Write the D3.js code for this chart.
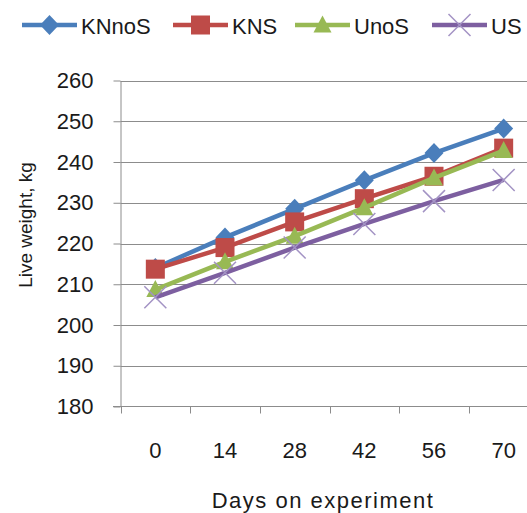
<!DOCTYPE html>
<html>
<head>
<meta charset="utf-8">
<script src="https://cdn.jsdelivr.net/npm/d3@7/dist/d3.min.js"></script>
<style>
  body { margin: 0; background: #fff; }
  svg { display: block; }
  text { font-family: "Liberation Sans", Arial, sans-serif; fill: #1a1a1a; }
</style>
</head>
<body>
<div id="chart"></div>
<script>
// categories and series
var days = ["0", "14", "28", "42", "56", "70"];
var yTicks = [180, 190, 200, 210, 220, 230, 240, 250, 260];
var seriesNames = ["KNnoS", "KNS", "UnoS", "US"];
var knnos = [214, 221.5, 228.5, 235.5, 242.2, 248.2];
var kns   = [213.7, 219, 225.3, 231, 236.5, 243.4];
var unos  = [208.7, 215.5, 221.8, 228.8, 236.1, 242.8];
var us    = [206.8, 212.8, 219, 224.8, 230.4, 235.6];

var colors = ["#4a7ebb", "#be4b48", "#98b954", "#7d5fa0"];
var markers = ["diamond", "square", "triangle", "cross"];

var width = 527, height = 513;

var svg = d3.select("#chart").append("svg")
    .attr("width", width)
    .attr("height", height);

// set the ranges (plot runs off the right edge like the original)
var x = d3.scaleBand().domain(days).range([120.5, 538.5]).padding(0);
var y = d3.scaleLinear().domain([180, 260]).range([406.5, 80.5]);

// gridlines
svg.append("g")
    .selectAll("line")
    .data(yTicks.slice(1))
  .enter().append("line")
    .attr("x1", 120.5).attr("x2", 540)
    .attr("y1", function(d) { return Math.round(y(d)) + 0.5; })
    .attr("y2", function(d) { return Math.round(y(d)) + 0.5; })
    .style("stroke", "#8c8c8c")
    .style("stroke-width", 1);

// y axis
var yAxis = svg.append("g")
    .attr("transform", "translate(120.5,0)")
    .call(d3.axisLeft(y).tickValues(yTicks).tickSize(7).tickPadding(6).tickSizeOuter(0));
yAxis.select(".domain").style("stroke", "#8c8c8c");
yAxis.selectAll(".tick line").style("stroke", "#8c8c8c");
yAxis.selectAll(".tick text")
    .style("font-size", "22px")
    .style("font-family", "'Liberation Sans', Arial, sans-serif")
    .style("fill", "#1a1a1a")
    .attr("x", -27);

// x axis: ticks on category boundaries
var xAxis = svg.append("g")
    .attr("transform", "translate(0,406.5)");
xAxis.append("line")
    .attr("x1", 113).attr("x2", 540)
    .style("stroke", "#8c8c8c");
xAxis.selectAll(".bt")
    .data(days)
  .enter().append("line")
    .attr("x1", function(d) { return Math.round(x(d)) + 0.5; })
    .attr("x2", function(d) { return Math.round(x(d)) + 0.5; })
    .attr("y1", 0).attr("y2", 7)
    .style("stroke", "#8c8c8c");
xAxis.selectAll(".lbl")
    .data(days)
  .enter().append("text")
    .attr("x", function(d) { return x(d) + x.bandwidth() / 2; })
    .attr("y", 51)
    .attr("text-anchor", "middle")
    .style("font-size", "22px")
    .text(function(d) { return d; });

// axis titles
svg.append("text")
    .attr("transform", "translate(32,225) rotate(-90)")
    .attr("text-anchor", "middle")
    .style("font-size", "19px")
    .text("Live weight, kg");

svg.append("text")
    .attr("x", 323)
    .attr("y", 508)
    .attr("text-anchor", "middle")
    .style("font-size", "22px")
    .style("letter-spacing", "1.5px")
    .text("Days on experiment");

// marker drawing
function drawMarker(g, type, color) {
  if (type === "diamond") {
    g.append("path").attr("d", "M0,-10L9.5,0L0,10L-9.5,0Z").style("fill", color);
  } else if (type === "square") {
    g.append("rect").attr("x", -9.5).attr("y", -9.5).attr("width", 19).attr("height", 19).style("fill", color);
  } else if (type === "triangle") {
    g.append("path").attr("d", "M0,-9.5L9,7.5L-9,7.5Z").style("fill", color);
  } else {
    g.append("path").attr("d", "M-11,-11L11,11M-11,11L11,-11")
        .style("stroke", "#a393c4").style("stroke-width", 1.5).style("fill", "none");
  }
}

var allSeries = [knnos, kns, unos, us];

var valueline = d3.line()
    .x(function(d, i) { return x(days[i]) + x.bandwidth() / 2; })
    .y(function(d) { return y(d); });

allSeries.forEach(function(vals, s) {
  svg.append("path")
      .datum(vals)
      .attr("d", valueline)
      .style("fill", "none")
      .style("stroke", colors[s])
      .style("stroke-width", 4.5)
      .style("stroke-linejoin", "round");

  vals.forEach(function(v, i) {
    var g = svg.append("g")
        .attr("transform", "translate(" + (x(days[i]) + x.bandwidth() / 2) + "," + y(v) + ")");
    drawMarker(g, markers[s], colors[s]);
  });
});

// legend
var legendX = [22, 173, 295, 432];
seriesNames.forEach(function(name, s) {
  var lg = svg.append("g").attr("transform", "translate(" + legendX[s] + ",25)");
  lg.append("line")
      .attr("x1", 0).attr("x2", 55)
      .style("stroke", colors[s])
      .style("stroke-width", 4.5);
  var m = lg.append("g").attr("transform", "translate(27.5,0)");
  drawMarker(m, markers[s], colors[s]);
  lg.append("text")
      .attr("x", 59)
      .attr("y", 9)
      .style("font-size", "22px")
      .text(name);
});
</script>
</body>
</html>
